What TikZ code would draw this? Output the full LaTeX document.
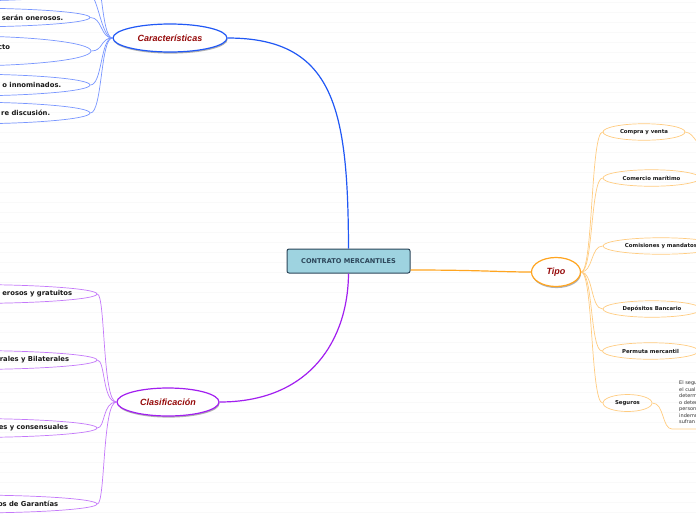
\documentclass[tikz,border=0pt]{standalone}
\usepackage{fontspec}
\setmainfont{DejaVu Sans}
\newfontfamily\libsans{Liberation Sans}
\usetikzlibrary{shapes.geometric,shadows}
\definecolor{bmain}{RGB}{33,88,245}
\definecolor{bkid}{RGB}{120,150,255}
\definecolor{pmain}{RGB}{162,31,240}
\definecolor{pkid}{RGB}{196,120,250}
\definecolor{omain}{RGB}{255,165,32}
\definecolor{okid}{RGB}{255,204,128}
\definecolor{dred}{RGB}{150,10,10}
\definecolor{cdark}{RGB}{44,70,90}
\definecolor{cfill}{RGB}{158,211,224}
\tikzset{
  cenbox/.style={rectangle, rounded corners=2pt, draw=cdark, line width=1pt, fill=cfill,
    minimum width=123pt, minimum height=24pt, inner sep=0pt,
    font=\bfseries\fontsize{6.6}{8}\selectfont, text=cdark},
  mainell/.style={ellipse, fill=white, line width=1.2pt, inner sep=0pt,
    font=\libsans\bfseries\itshape\fontsize{9}{11}\selectfont, text=dred,
    drop shadow={shadow xshift=0.6pt, shadow yshift=-1.6pt, opacity=0.3, fill=black}},
  lkid/.style={ellipse, inner sep=0pt, minimum width=260pt, line width=0.7pt},
  lbl/.style={anchor=east, inner sep=0pt, font=\bfseries\fontsize{6.8}{8}\selectfont, text=black!90},
  okidell/.style={ellipse, draw=okid, line width=0.7pt, inner sep=0pt, minimum height=16.5pt,
    font=\bfseries\fontsize{5.4}{6.5}\selectfont, text=black!90},
  segtext/.style={anchor=west, inner sep=0pt, align=left, font=\fontsize{5}{6.5}\selectfont, text=black!80},
  bline/.style={draw=bkid, line width=0.7pt},
  pline/.style={draw=pkid, line width=0.7pt},
  oline/.style={draw=okid, line width=0.7pt},
}
\begin{document}
\begin{tikzpicture}[x=1pt,y=-1pt]
\useasboundingbox (0,0) rectangle (696,520);
\clip (0,0) rectangle (696,520);
\fill[white] (0,0) rectangle (696,520);
\foreach \k in {0,...,51} \draw[gray!5, line width=0.6pt] (0,2.5+10*\k) -- (696,2.5+10*\k);

% central
\node[cenbox] (cen) at (348.5,261) {CONTRATO MERCANTILES};

% main branches
\node[mainell, draw=bmain, minimum width=114pt, minimum height=28pt] (car) at (170,38) {Características};
\node[mainell, draw=pmain, minimum width=102pt, minimum height=28pt] (cla) at (168,402) {Clasificación};
\node[mainell, draw=omain, minimum width=49pt, minimum height=29pt] (tipo) at (556,272) {Tipo};

\draw[bmain, line width=1.2pt] (cen.north) .. controls (348,110) and (335,38) .. (car.east);
\draw[pmain, line width=1.2pt] (cen.south) .. controls (348,340) and (310,402) .. (cla.east);
\draw[omain, line width=1.2pt] ([yshift=-9pt]cen.east) .. controls (480,270) and (500,272) .. (tipo.west);

% Caracteristicas children
\node[lkid, draw=bkid, minimum height=20pt] (ca) at (-40,-40) {};
\node[lkid, draw=bkid, minimum height=20pt] (cb) at (-44,-9) {};
\node[lkid, draw=bkid, minimum height=19pt, label={[lbl, xshift=-27pt]east:serán onerosos.}] (cc) at (-40,17.5) {};
\node[lkid, draw=bkid, minimum height=30pt, label={[lbl, xshift=-81pt, yshift=4pt]east:cto}] (cd) at (-39,51) {};
\node[lkid, draw=bkid, minimum height=22pt, label={[lbl, xshift=-29pt]east:o innominados.}] (ce) at (-40,85) {};
\node[lkid, draw=bkid, minimum height=22pt, label={[lbl, xshift=-40pt]east:re discusión.}] (cf) at (-40,113) {};
\foreach \n in {ca,cb,cc,cd,ce,cf}
  \draw[bline] (car.west) .. controls +(-12,0) and +(12,0) .. (\n.east);

% Clasificacion children
\node[lkid, draw=pkid, minimum height=19pt, label={[lbl, xshift=-25pt]east:erosos y gratuitos}] (k1) at (-33,294) {};
\node[lkid, draw=pkid, minimum height=19pt, label={[lbl, xshift=-28pt]east:rales y Bilaterales}] (k2) at (-33,360) {};
\node[lkid, draw=pkid, minimum height=19pt, label={[lbl, xshift=-29pt]east:es y consensuales}] (k3) at (-33,428) {};
\node[lkid, draw=pkid, minimum height=18pt, label={[lbl, xshift=-39pt]east:os de Garantías}] (k4) at (-33,504) {};
\foreach \n in {k1,k2,k3,k4}
  \draw[pline] (cla.west) .. controls +(-14,0) and +(8,0) .. (\n.east);

% Tipo children
\node[okidell, minimum width=82pt] (t1) at (644,132) {Compra y venta};
\node[okidell, minimum width=97pt] (t2) at (651.5,178) {Comercio marítimo};
\node[okidell, minimum width=116pt] (t3) at (661,246) {Comisiones y mandatos};
\node[okidell, minimum width=98pt] (t4) at (652,309) {Depósitos Bancario};
\node[okidell, minimum width=96pt] (t5) at (650.5,351) {Permuta mercantil};
\node[okidell, minimum width=49pt, minimum height=17pt] (t6) at (627.5,403) {Seguros};
\foreach \n in {t1,t2,t3,t4,t5,t6}
  \draw[oline] (tipo.east) .. controls +(12,0) and +(-12,0) .. (\n.west);

\coordinate (gc) at (716,160);
\draw[oline] (t1.east) .. controls +(10,0) and +(-12,0) .. (gc);

\node[segtext] (segt) at (679,402.5) {El seguro\\el cual\\determinada\\o determinable\\persona\\indemnizar\\sufran};
\coordinate (segbend) at (672,429);
\coordinate (segend) at (740,429);
\draw[oline] (t6.east) .. controls +(12,0) and +(-10,0) .. (segbend) -- (segend);
\end{tikzpicture}
\end{document}
